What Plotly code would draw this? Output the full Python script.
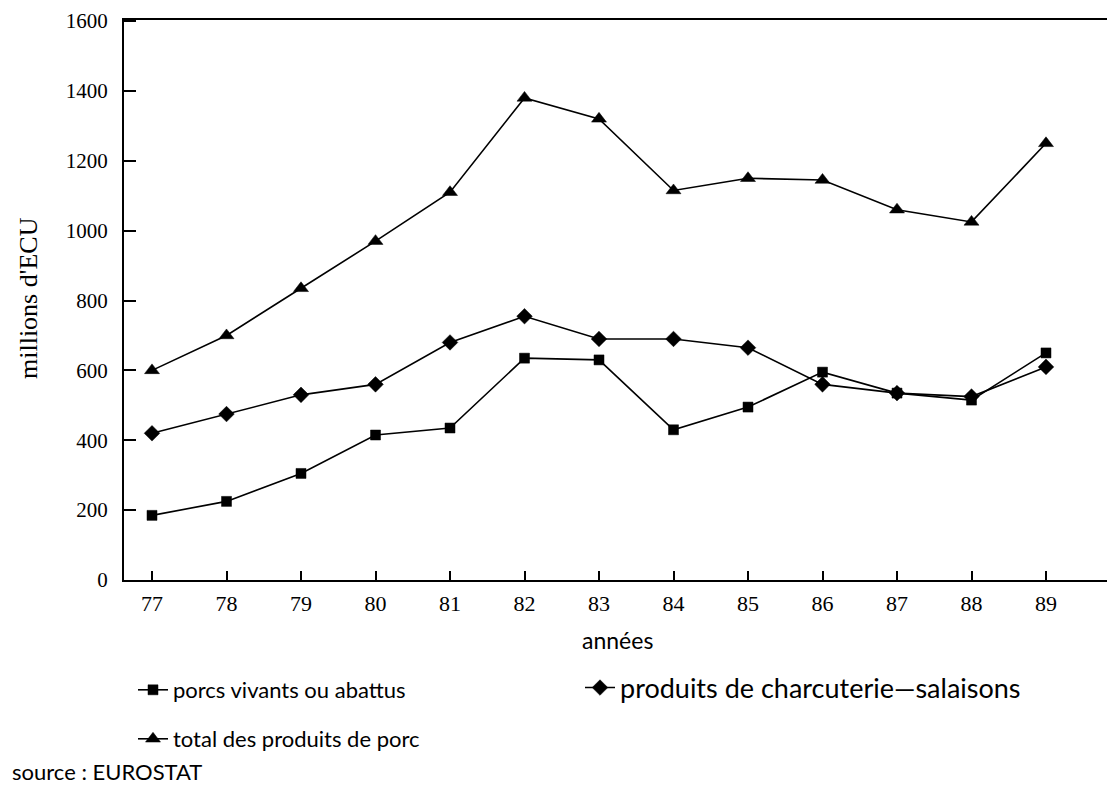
import plotly.graph_objects as go

years = [77, 78, 79, 80, 81, 82, 83, 84, 85, 86, 87, 88, 89]
porcs_vivants = [185, 225, 305, 415, 435, 635, 630, 430, 495, 595, 535, 515, 650]
charcuterie = [420, 475, 530, 560, 680, 755, 690, 690, 665, 560, 535, 525, 610]
total_porc = [600, 700, 835, 970, 1110, 1380, 1320, 1115, 1150, 1145, 1060, 1025, 1250]
y_ticks = [0, 200, 400, 600, 800, 1000, 1200, 1400, 1600]

names = ["porcs vivants ou abattus", "produits de charcuterie\u2014salaisons", "total des produits de porc"]

SERIF = "Liberation Serif"
SANS = "Lato"

fig = go.Figure()
series = [(porcs_vivants, "square", 10, names[0], "legend"),
          (charcuterie, "diamond", 12, names[1], "legend2"),
          (total_porc, "triangle-up", 13, names[2], "legend3")]
for vals, sym, sz, nm, lg in series:
    fig.add_trace(go.Scatter(
        x=years, y=vals, mode="lines+markers", name=nm, legend=lg,
        line=dict(color="black", width=1.6),
        marker=dict(symbol=sym, size=sz, color="black",
                    line=dict(color="black", width=0.5)),
    ))

# page offset of the browser body margin
OFF = 8
W, H = 1115 - OFF, 789 - OFF
PL, PR, PT, PB = 124, 1112, 20, 580          # plot box in page pixels
L, T = PL - OFF, PT - OFF
R = W - (PR - OFF)
B = H - (PB - OFF)
pw, ph = PR - PL, PB - PT

def px_x(x):
    return (x - PL) / pw

def px_y(y):
    return (PB - y) / ph

def cx(x):
    return (x - OFF) / W

def cy(y):
    return 1 - (y - OFF) / H

def legend_cfg(x, y, size):
    return dict(orientation="h", bgcolor="rgba(0,0,0,0)",
                font=dict(family=SANS, size=size, color="black"),
                xref="container", yref="container", xanchor="left", yanchor="middle",
                itemwidth=30, x=cx(x), y=cy(y))

fig.update_layout(
    width=W, height=H,
    margin=dict(l=L, r=R, t=T, b=B, autoexpand=False),
    paper_bgcolor="white", plot_bgcolor="white",
    showlegend=True,
    legend=legend_cfg(133, 690, 22),
    legend2=legend_cfg(580, 688, 27),
    legend3=legend_cfg(133, 739, 22),
    xaxis=dict(range=[76.624, 89.886], tickmode="array", tickvals=years,
               ticktext=[str(y) for y in years], automargin=False,
               showline=True, linecolor="black", linewidth=2, mirror=True,
               ticks="inside", ticklen=9, tickwidth=1.5, tickcolor="black",
               showgrid=False, zeroline=False, ticklabeloverflow="allow",
               ticklabelstandoff=3,
               tickfont=dict(family=SERIF, size=22, color="black")),
    yaxis=dict(range=[0, 1603], tickmode="array", tickvals=y_ticks, automargin=False,
               showline=True, linecolor="black", linewidth=2, mirror=True,
               ticks="inside", ticklen=12, tickwidth=1.5, tickcolor="black",
               showgrid=False, zeroline=False, ticklabeloverflow="allow",
               ticklabelstandoff=10,
               tickfont=dict(family=SERIF, size=21, color="black")),
    annotations=[
        dict(text="années", xref="paper", yref="paper", x=px_x(617), y=px_y(640),
             showarrow=False, xanchor="center", yanchor="middle",
             font=dict(family=SANS, size=23, color="black")),
        dict(text="millions d'ECU", xref="paper", yref="paper", x=px_x(28), y=px_y(298),
             showarrow=False, xanchor="center", yanchor="middle", textangle=-90,
             font=dict(family=SERIF, size=26, color="black")),
        dict(text="source : EUROSTAT", xref="paper", yref="paper", x=px_x(10), y=px_y(771),
             showarrow=False, xanchor="left", yanchor="middle",
             font=dict(family=SANS, size=22, color="black")),
    ],
)

fig.write_html("out.html")
